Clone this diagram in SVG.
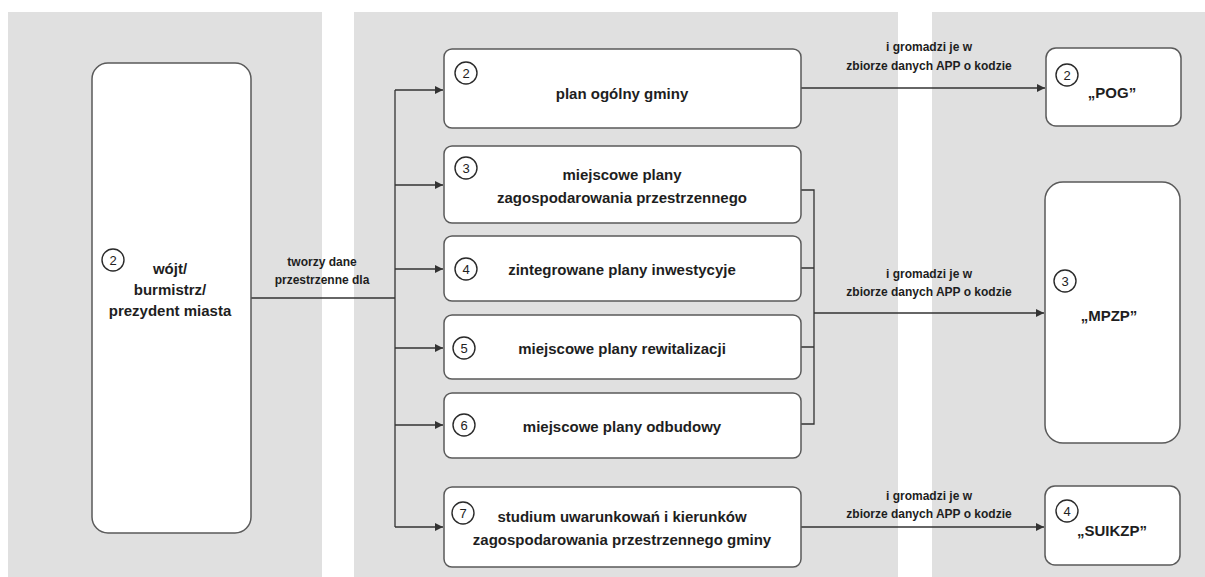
<svg xmlns="http://www.w3.org/2000/svg" width="1205" height="577" viewBox="0 0 1205 577">
<style>
  .panel { fill: #e0e0e0; }
  .box { fill: #ffffff; stroke: #5a5a5a; stroke-width: 1.5; }
  .num { fill: #ffffff; stroke: #2a2a2a; stroke-width: 1.4; }
  .numt { font-family: "Liberation Sans", Arial, sans-serif; font-size: 13px; fill: #222; text-anchor: middle; }
  .t { font-family: "Liberation Sans", Arial, sans-serif; font-weight: bold; font-size: 15px; fill: #1e1e1e; text-anchor: middle; }
  .lbl { font-family: "Liberation Sans", Arial, sans-serif; font-weight: bold; font-size: 12px; fill: #1e1e1e; text-anchor: middle; }
  .ln { fill: none; stroke: #333; stroke-width: 1.3; }
</style>
<defs>
  <marker id="arr" viewBox="0 0 10 10" refX="10" refY="5" markerWidth="8" markerHeight="8" markerUnits="userSpaceOnUse" orient="auto">
    <path d="M0,0 L10,5 L0,10 z" fill="#333"/>
  </marker>
</defs>
<rect width="1205" height="577" fill="#ffffff"/>
<g id="panels">
  <rect class="panel" x="8" y="12" width="314" height="565"/>
  <rect class="panel" x="354" y="12" width="544" height="565"/>
  <rect class="panel" x="932" y="12" width="273" height="565"/>
</g>
<g id="connectors">
  <path class="ln" d="M251,298 H395"/>
  <path class="ln" d="M395,90 V527"/>
  <path class="ln" marker-end="url(#arr)" d="M395,90 H443"/>
  <path class="ln" marker-end="url(#arr)" d="M395,185 H443"/>
  <path class="ln" marker-end="url(#arr)" d="M395,269 H443"/>
  <path class="ln" marker-end="url(#arr)" d="M395,348 H443"/>
  <path class="ln" marker-end="url(#arr)" d="M395,425 H443"/>
  <path class="ln" marker-end="url(#arr)" d="M395,527 H443"/>
  <path class="ln" marker-end="url(#arr)" d="M801,88 H1045"/>
  <path class="ln" d="M801,190 H814 V424 H801 M801,268 H814 M801,347 H814"/>
  <path class="ln" marker-end="url(#arr)" d="M814,313 H1044"/>
  <path class="ln" marker-end="url(#arr)" d="M801,527 H1044"/>
  <text class="lbl" x="322" y="266">tworzy dane</text>
  <text class="lbl" x="322" y="284">przestrzenne dla</text>
  <text class="lbl" x="929" y="51">i gromadzi je w</text>
  <text class="lbl" x="929" y="70">zbiorze danych APP o kodzie</text>
  <text class="lbl" x="929" y="278">i gromadzi je w</text>
  <text class="lbl" x="929" y="296">zbiorze danych APP o kodzie</text>
  <text class="lbl" x="929" y="500">i gromadzi je w</text>
  <text class="lbl" x="929" y="518">zbiorze danych APP o kodzie</text>
</g>
<g id="node-wojt">
  <rect class="box" x="92" y="63" width="159" height="470" rx="16"/>
  <circle class="num" cx="113" cy="260" r="11"/>
  <text class="numt" x="113" y="264.5">2</text>
  <text class="t" x="170" y="274">wójt/</text>
  <text class="t" x="170" y="295">burmistrz/</text>
  <text class="t" x="170" y="316">prezydent miasta</text>
</g>
<g id="node-pog-plan">
  <rect class="box" x="444" y="49" width="357" height="79" rx="8"/>
  <circle class="num" cx="466" cy="73" r="11"/>
  <text class="numt" x="466" y="77.5">2</text>
  <text class="t" x="622" y="99">plan ogólny gminy</text>
</g>
<g id="node-mpzp-plan">
  <rect class="box" x="444" y="146" width="357" height="77" rx="8"/>
  <circle class="num" cx="466" cy="168" r="11"/>
  <text class="numt" x="466" y="172.5">3</text>
  <text class="t" x="622" y="180">miejscowe plany</text>
  <text class="t" x="622" y="203">zagospodarowania przestrzennego</text>
</g>
<g id="node-zpi">
  <rect class="box" x="444" y="236" width="357" height="65" rx="8"/>
  <circle class="num" cx="466" cy="269" r="11"/>
  <text class="numt" x="466" y="273.5">4</text>
  <text class="t" x="622" y="275">zintegrowane plany inwestycyje</text>
</g>
<g id="node-mpr">
  <rect class="box" x="444" y="315" width="357" height="64" rx="8"/>
  <circle class="num" cx="464" cy="348" r="11"/>
  <text class="numt" x="464" y="352.5">5</text>
  <text class="t" x="622" y="354">miejscowe plany rewitalizacji</text>
</g>
<g id="node-mpo">
  <rect class="box" x="444" y="393" width="357" height="65" rx="8"/>
  <circle class="num" cx="464" cy="425" r="11"/>
  <text class="numt" x="464" y="429.5">6</text>
  <text class="t" x="622" y="432">miejscowe plany odbudowy</text>
</g>
<g id="node-studium">
  <rect class="box" x="444" y="487" width="357" height="80" rx="8"/>
  <circle class="num" cx="463" cy="513" r="11"/>
  <text class="numt" x="463" y="517.5">7</text>
  <text class="t" x="622" y="522">studium uwarunkowań i kierunków</text>
  <text class="t" x="622" y="545">zagospodarowania przestrzennego gminy</text>
</g>
<g id="node-pog">
  <rect class="box" x="1046" y="48" width="135" height="78" rx="10"/>
  <circle class="num" cx="1067" cy="75" r="11"/>
  <text class="numt" x="1067" y="79.5">2</text>
  <text class="t" x="1112" y="98">„POG”</text>
</g>
<g id="node-mpzp">
  <rect class="box" x="1045" y="182" width="135" height="261" rx="18"/>
  <circle class="num" cx="1065" cy="281" r="11"/>
  <text class="numt" x="1065" y="285.5">3</text>
  <text class="t" x="1109" y="321">„MPZP”</text>
</g>
<g id="node-suikzp">
  <rect class="box" x="1045" y="486" width="135" height="79" rx="10"/>
  <circle class="num" cx="1067" cy="511" r="11"/>
  <text class="numt" x="1067" y="515.5">4</text>
  <text class="t" x="1112" y="536">„SUIKZP”</text>
</g>
</svg>
